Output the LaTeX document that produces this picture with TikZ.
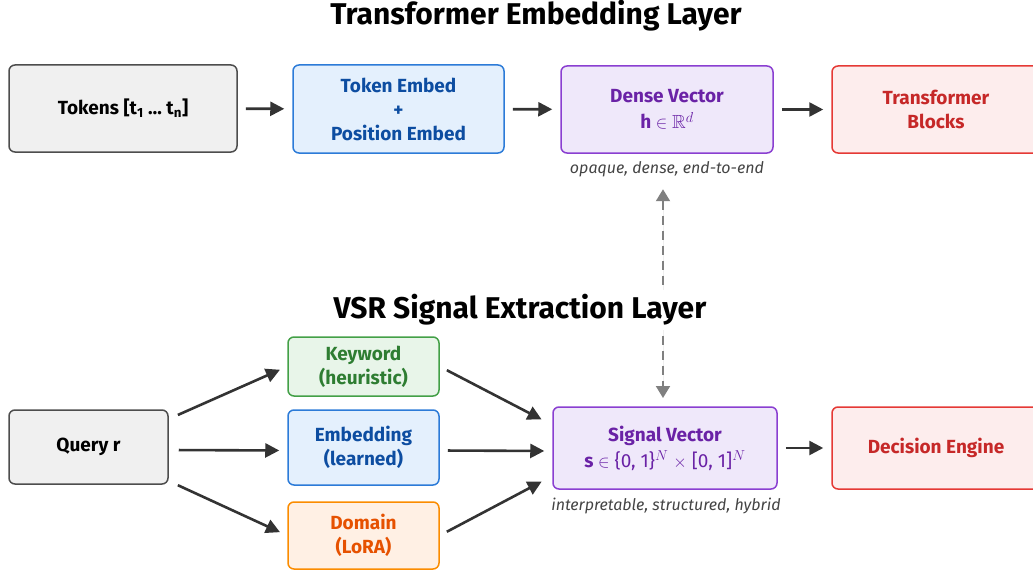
\documentclass[tikz,border=0pt]{standalone}
\usepackage{fontspec}
\setmainfont{Fira Sans}
\usepackage{amsfonts}
\usepackage{amsmath}
\usetikzlibrary{arrows.meta}
\usetikzlibrary{positioning}

\definecolor{grayfill}{HTML}{F0F0F0}
\definecolor{grayline}{HTML}{4D4D4D}
\definecolor{bluefill}{HTML}{E4F0FD}
\definecolor{blueline}{HTML}{2C7BD8}
\definecolor{bluetext}{HTML}{0D4DA1}
\definecolor{purpfill}{HTML}{EFE8FA}
\definecolor{purpline}{HTML}{8A3FD1}
\definecolor{purptext}{HTML}{6A22A6}
\definecolor{redfill}{HTML}{FDEDED}
\definecolor{redline}{HTML}{E53935}
\definecolor{redtext}{HTML}{C62828}
\definecolor{greenfill}{HTML}{E8F5E9}
\definecolor{greenline}{HTML}{43A047}
\definecolor{greentext}{HTML}{2E7D32}
\definecolor{orangefill}{HTML}{FFF0E4}
\definecolor{orangeline}{HTML}{FB8C00}
\definecolor{orangetext}{HTML}{E65100}
\definecolor{arrowgray}{HTML}{333333}
\definecolor{dashgray}{HTML}{808080}
\definecolor{captgray}{HTML}{444444}

\tikzset{
  box/.style={draw, rounded corners=6pt, line width=1.5pt, align=center,
    font=\fontsize{19}{24}\selectfont\bfseries},
  graybox/.style={box, fill=grayfill, draw=grayline, text=black},
  bluebox/.style={box, fill=bluefill, draw=blueline, text=bluetext},
  purpbox/.style={box, fill=purpfill, draw=purpline, text=purptext},
  redbox/.style={box, fill=redfill, draw=redline, text=redtext},
  greenbox/.style={box, fill=greenfill, draw=greenline, text=greentext},
  orangebox/.style={box, fill=orangefill, draw=orangeline, text=orangetext},
  flow/.style={line width=2.6pt, draw=arrowgray,
    -{Triangle[length=14pt,width=14pt]}, shorten <=8pt, shorten >=8pt},
  caption/.style={font=\fontsize{16}{18}\selectfont\itshape, text=captgray},
  layertitle/.style={font=\fontsize{30}{32}\selectfont\bfseries, text=black}
}

\begin{document}
\begin{tikzpicture}[x=1pt, y=-1pt]
  \useasboundingbox (0,0) rectangle (1033,575);

  % Embedding layer
  \node[layertitle] (title1) at (536,16) {Transformer Embedding Layer};
  \node[graybox, minimum width=228pt, minimum height=87pt] (tokens) at (123,108.5)
    {Tokens [t\textsubscript{1} \dots\ t\textsubscript{n}]};
  \node[bluebox, minimum width=211pt, minimum height=88pt] (tokemb) at (398.5,109)
    {Token Embed\\+\\Position Embed};
  \node[purpbox, minimum width=212pt, minimum height=87pt] (dense) at (667,109.5)
    {Dense Vector\\[2pt]\textbf{h} $\in \mathbb{R}^{d}$};
  \node[redbox, minimum width=208pt, minimum height=87pt] (tblocks) at (936,109.5)
    {Transformer\\Blocks};
  \node[caption] (dcap) at (667,169) {opaque, dense, end-to-end};

  \draw[flow] (tokens) -- (tokemb);
  \draw[flow] (tokemb) -- (dense);
  \draw[flow] (dense) -- (tblocks);

  % Link between layers
  \node[caption] (scap) at (666,506) {interpretable, structured, hybrid};
  \coordinate (sigtop) at (663,407);
  \draw[line width=2pt, draw=dashgray, dash pattern=on 9pt off 6pt,
    {Triangle[length=12pt,width=14pt]}-{Triangle[length=12pt,width=14pt]},
    fill=dashgray, shorten <=9pt, shorten >=9pt] ([xshift=-4pt]dcap.south) -- (sigtop);
  \node[layertitle, fill=white, inner xsep=4pt, inner ysep=5pt] (title2) at (520,310)
    {VSR Signal Extraction Layer};

  % Signal layer
  \node[graybox, minimum width=159pt, minimum height=74pt] (query) at (88.5,447) {Query r};
  \node[greenbox, minimum width=151pt, minimum height=59pt] (keyword) at (363.5,366.5)
    {Keyword\\(heuristic)};
  \node[bluebox, minimum width=151pt, minimum height=75pt] (embedding) at (363.5,447.5)
    {Embedding\\(learned)};
  \node[orangebox, minimum width=151pt, minimum height=67pt] (domain) at (363.5,535.5)
    {Domain\\(LoRA)};
  \node[purpbox, minimum width=224pt, minimum height=82pt] (signal) at (665,448)
    {Signal Vector\\[2pt]\textbf{s} {\mdseries $\in$ \{0, 1\}$^{N}$ $\times$ [0, 1]$^{N}$}};
  \node[redbox, minimum width=208pt, minimum height=82pt] (decision) at (936,448)
    {Decision Engine};

  \draw[flow, shorten <=10pt] ([yshift=28pt]query.east) -- (keyword.west);
  \draw[flow, shorten <=10pt] ([yshift=-3pt]query.east) -- ([yshift=-3pt]embedding.west);
  \draw[flow, shorten <=10pt] ([yshift=-34pt]query.east) -- (domain.west);
  \draw[flow, shorten >=12pt] (keyword.east) -- ([yshift=23pt]signal.west);
  \draw[flow] ([yshift=-3pt]embedding.east) -- ([yshift=-3pt]signal.west);
  \draw[flow, shorten >=12pt] (domain.east) -- ([yshift=-28pt]signal.west);
  \draw[flow] (signal) -- (decision);
\end{tikzpicture}
\end{document}
